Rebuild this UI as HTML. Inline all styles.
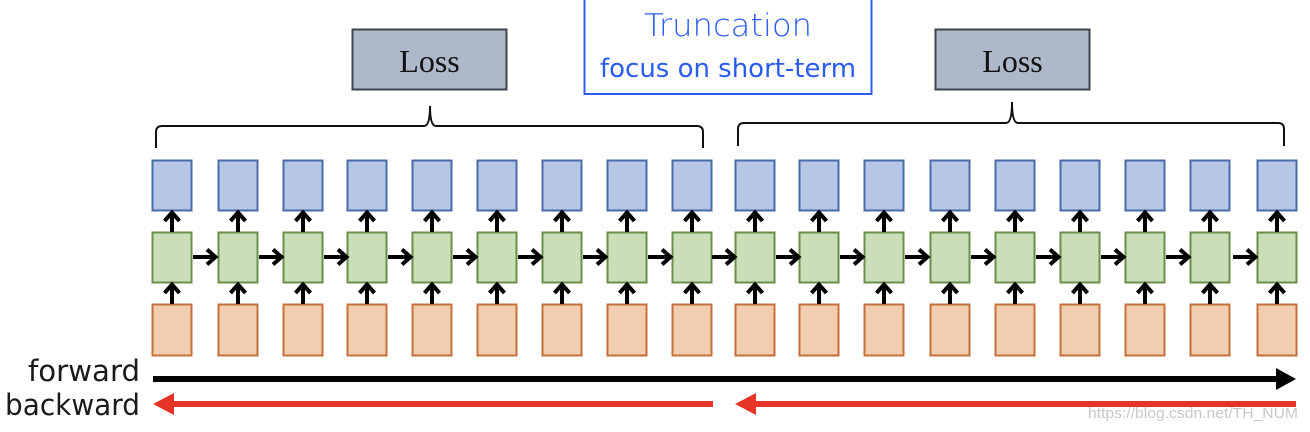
<!DOCTYPE html>
<html><head><meta charset="utf-8"><style>
html,body{margin:0;padding:0;background:#fff;width:1310px;height:432px;overflow:hidden}
svg{display:block}
</style></head><body>
<svg width="1310" height="432" viewBox="0 0 1310 432" xmlns="http://www.w3.org/2000/svg">
<defs>
<g id="col">
<rect x="0.5" y="160.5" width="39" height="50" fill="#b6c7e6" stroke="#4a6aa8" stroke-width="2"/>
<rect x="0.5" y="232.5" width="39" height="50" fill="#cadfb8" stroke="#6a8f4a" stroke-width="2"/>
<rect x="0.5" y="304.5" width="39" height="51" fill="#f2cdb0" stroke="#c4703c" stroke-width="2"/>
<path d="M20 232 V214 M12.5 221 L20 212.5 L27.5 221" fill="none" stroke="#000" stroke-width="4"/>
<path d="M20 304 V286 M12.5 293 L20 284.5 L27.5 293" fill="none" stroke="#000" stroke-width="4"/>
</g>
<g id="rar">
<path d="M0 0 H21 M14 -7.5 L22.5 0 L14 7.5" fill="none" stroke="#000" stroke-width="4"/>
</g>
</defs>
<use href="#col" x="152"/><use href="#col" x="218"/><use href="#col" x="283"/><use href="#col" x="347"/><use href="#col" x="412"/><use href="#col" x="477"/><use href="#col" x="542"/><use href="#col" x="607"/><use href="#col" x="672"/>
<use href="#col" x="735"/><use href="#col" x="799"/><use href="#col" x="864"/><use href="#col" x="930"/><use href="#col" x="995"/><use href="#col" x="1060"/><use href="#col" x="1125"/><use href="#col" x="1190"/><use href="#col" x="1257"/>
<use href="#rar" x="193" y="257"/><use href="#rar" x="259" y="257"/><use href="#rar" x="324" y="257"/><use href="#rar" x="388" y="257"/><use href="#rar" x="453" y="257"/><use href="#rar" x="518" y="257"/><use href="#rar" x="583" y="257"/><use href="#rar" x="648" y="257"/><use href="#rar" x="712" y="257"/>
<use href="#rar" x="776" y="257"/><use href="#rar" x="840" y="257"/><use href="#rar" x="905" y="257"/><use href="#rar" x="971" y="257"/><use href="#rar" x="1036" y="257"/><use href="#rar" x="1101" y="257"/><use href="#rar" x="1166" y="257"/><use href="#rar" x="1233" y="257"/>
<rect x="352.5" y="29.5" width="154" height="60" fill="#adb9c9" stroke="#3c4450" stroke-width="2"/>
<text x="429.5" y="72" font-family="Liberation Serif, serif" font-size="32" text-anchor="middle" fill="#111">Loss</text>
<rect x="935.5" y="29.5" width="154" height="60" fill="#adb9c9" stroke="#3c4450" stroke-width="2"/>
<text x="1012.5" y="72" font-family="Liberation Serif, serif" font-size="32" text-anchor="middle" fill="#111">Loss</text>
<rect x="584.5" y="-2" width="287" height="96" fill="#fff" stroke="#2a5cf0" stroke-width="2"/>
<text x="728" y="36" font-family="DejaVu Sans, sans-serif" font-size="31" font-weight="200" text-anchor="middle" fill="#2a5cf0" textLength="168" lengthAdjust="spacingAndGlyphs">Truncation</text>
<text x="728" y="77" font-family="DejaVu Sans, sans-serif" font-size="26" text-anchor="middle" fill="#2a5cf0" textLength="256" lengthAdjust="spacingAndGlyphs">focus on short-term</text>
<path d="M156 148 V132 Q156 126 162 126 H424 Q430 126 430 106 Q430 126 436 126 H697 Q703 126 703 132 V148" fill="none" stroke="#111" stroke-width="2"/>
<path d="M738 146 V129 Q738 123 744 123 H1006 Q1012 123 1012 102 Q1012 123 1018 123 H1278 Q1284 123 1284 129 V146" fill="none" stroke="#111" stroke-width="2"/>
<path d="M153 379 H1280" stroke="#000" stroke-width="6"/>
<path d="M1296 379 L1276 368 L1276 390 Z" fill="#000"/>
<path d="M172 404 H713" stroke="#e83426" stroke-width="6"/>
<path d="M153 404 L174 393 L174 415 Z" fill="#e83426"/>
<path d="M754 404 H1296" stroke="#e83426" stroke-width="6"/>
<path d="M735 404 L756 393 L756 415 Z" fill="#e83426"/>
<text x="140" y="381" font-family="DejaVu Sans, sans-serif" font-size="29" text-anchor="end" fill="#1a1a1a" textLength="112" lengthAdjust="spacingAndGlyphs">forward</text>
<text x="140" y="415" font-family="DejaVu Sans, sans-serif" font-size="29" text-anchor="end" fill="#1a1a1a" textLength="135" lengthAdjust="spacingAndGlyphs">backward</text>
<text x="1298" y="418" font-family="Liberation Sans, sans-serif" font-size="15" text-anchor="end" fill="#c8c8c8" textLength="210" lengthAdjust="spacingAndGlyphs">https://blog.csdn.net/TH_NUM</text>
</svg>
</body></html>
